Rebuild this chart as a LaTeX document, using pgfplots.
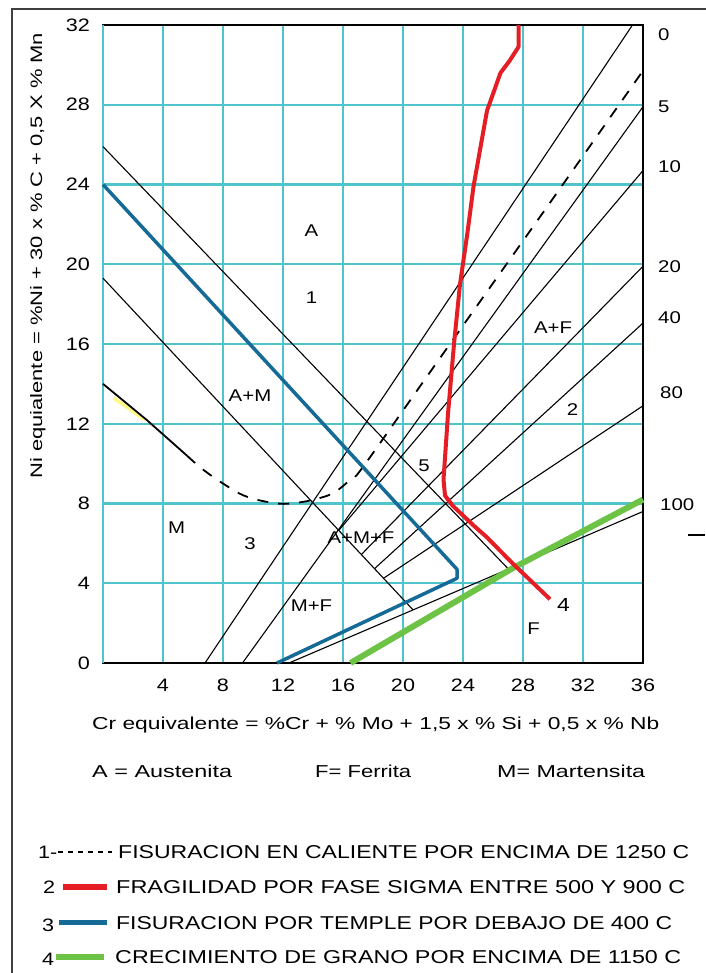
\documentclass[border=0pt]{standalone}
\usepackage{pgfplots}
\pgfplotsset{compat=1.18}
\usepackage{fontspec}
\setmainfont{Liberation Sans}[FakeStretch=1.2]
\definecolor{gridc}{RGB}{80,196,204}
\definecolor{rline}{RGB}{228,30,36}
\definecolor{bline}{RGB}{22,106,150}
\definecolor{gline}{RGB}{108,195,70}
\tikzset{lbl/.style={font=\fontsize{17}{17}\selectfont, inner sep=0pt}}
\begin{document}
\begin{tikzpicture}[x=1pt,y=1pt]
\path[use as bounding box] (0pt,0pt) rectangle (705pt,-973pt);
\draw[line width=1.6pt, black!75] (12pt,-980pt) -- (12pt,-9pt) -- (710pt,-9pt);
\begin{axis}[
  at={(103pt,-663pt)}, anchor=south west,
  scale only axis, width=540pt, height=638pt,
  xmin=0, xmax=36, ymin=0, ymax=32,
  xtick={4,8,...,36}, ytick={0,4,...,32},
  extra x ticks={0}, extra x tick labels={},
  grid=major, grid style={line width=2.2pt, color=gridc},
  axis line style={line width=1.2pt, black},
  tick style={draw=none},
  ticklabel style={font=\fontsize{18}{18}\selectfont},
  /pgf/number format/assume math mode=true,
  xticklabel style={inner sep=0pt, anchor=north, yshift=-16pt},
  yticklabel style={inner sep=0pt, anchor=east, xshift=-13pt},
  clip=false,
]
% yellow tint on hot-cracking line
\addplot[line width=3.5pt, color=yellow!60!white, opacity=0.8] coordinates {(0.7,13.3) (2.8,12.2)};
% thin phase boundary / iso-ferrite lines
\addplot[line width=1.1pt, black] coordinates {(0,25.9) (27.02,4.72)};
\addplot[line width=1.1pt, black] coordinates {(0,19.3) (20.65,2.68)};
\addplot[line width=1.1pt, black] coordinates {(6.8,0) (35.3,32)};
\addplot[line width=1.1pt, black] coordinates {(9.3,0) (36,27.9)};
\addplot[line width=1.1pt, black] coordinates {(15.72,6.65) (36,24.7)};
\addplot[line width=1.1pt, black] coordinates {(17.22,5.44) (36,19.9)};
\addplot[line width=1.1pt, black] coordinates {(18.1,4.73) (36,17.05)};
\addplot[line width=1.1pt, black] coordinates {(18.7,4.25) (36,12.9)};
\addplot[line width=1.1pt, black] coordinates {(12.4,0) (36,7.6)};
% 1: hot cracking (dashed)
\addplot[line width=1.8pt, black] coordinates {(0,14.0) (2.9,12.2) (5.6,10.4)};
\addplot[line width=1.8pt, black, smooth, dash pattern=on 11pt off 10pt] coordinates {
 (5.6,10.4) (6.5,9.8) (7.6,9.2) (9.1,8.5) (10.2,8.2) (11.6,8.0) (12.5,8.0) (13.8,8.15)
 (15.3,8.5) (16.5,9.2) (17.3,9.8) (22,14.8) (30,23.3) (35.9,29.6)};
% 3: quench cracking (blue)
\addplot[line width=3.5pt, bline, line join=round] coordinates {(0,24) (23.6,4.7) (23.6,4.25) (11.6,0)};
% 4: grain growth (green)
\addplot[line width=6pt, gline] coordinates {(16.5,0) (27.3,4.75) (36,8.2)};
% 2: sigma embrittlement (red)
\addplot[line width=4pt, rline, line join=round] coordinates {
 (27.7,32) (27.7,30.9) (27.1,30.2) (26.5,29.6) (25.6,27.7) (24.7,23.9) (24.3,21.6)
 (23.8,19.0) (23.4,16.0) (23.0,12.5) (22.7,9.2) (22.8,8.4) (23.3,7.9) (24.7,6.9)
 (25.6,6.3) (27.3,5.0) (29.8,3.2)};
% region labels
\node[lbl] at (axis cs:13.9,21.7) {A};
\node[lbl] at (axis cs:13.9,18.3) {1};
\node[lbl] at (axis cs:9.8,13.4) {A+M};
\node[lbl] at (axis cs:4.9,6.8) {M};
\node[lbl] at (axis cs:9.8,6.0) {3};
\node[lbl] at (axis cs:17.2,6.3) {A+M+F};
\node[lbl] at (axis cs:13.9,2.9) {M+F};
\node[lbl] at (axis cs:21.4,9.9) {5};
\node[lbl] at (axis cs:30.0,16.8) {A+F};
\node[lbl] at (axis cs:31.3,12.7) {2};
\node[lbl] at (axis cs:28.7,1.7) {F};
\node[lbl, font=\fontsize{19}{19}\selectfont] at (axis cs:30.7,2.9) {4};
\end{axis}
% ferrite percentages on the right
\begin{scope}[every node/.style={font=\fontsize{17}{17}\selectfont, inner sep=0pt, anchor=west}]
\node at (658pt,-35pt) {0};
\node at (658pt,-107pt) {5};
\node at (658pt,-167pt) {10};
\node at (658pt,-267pt) {20};
\node at (658pt,-318pt) {40};
\node at (660pt,-393pt) {80};
\node at (660pt,-505pt) {100};
\end{scope}
\draw[line width=1.3pt] (688pt,-535pt) -- (705pt,-535pt);
% axis titles
\node[anchor=base west, inner sep=0pt] at (92pt,-729pt) {\resizebox{567pt}{12.5pt}{Cr equivalente = \%Cr + \% Mo + 1,5 x \% Si + 0,5 x \% Nb}};
\node[anchor=base west, rotate=90, inner sep=0pt] at (42pt,-479pt) {\resizebox{446pt}{12pt}{Ni equialente = \%Ni + 30 x \% C + 0,5 X \% Mn}};
% phase key
\node[anchor=base west, inner sep=0pt] at (92pt,-777pt) {\resizebox{140pt}{12.5pt}{A = Austenita}};
\node[anchor=base west, inner sep=0pt] at (315pt,-777pt) {\resizebox{96pt}{12.5pt}{F= Ferrita}};
\node[anchor=base west, inner sep=0pt] at (497pt,-777pt) {\resizebox{148pt}{12.5pt}{M= Martensita}};
% legend
\begin{scope}[every node/.style={font=\fontsize{18}{18}\selectfont, inner sep=0pt}]
\node[anchor=base west] at (38pt,-858pt) {1-};
\draw[line width=1.8pt, dash pattern=on 5pt off 5pt] (58pt,-852pt) -- (112pt,-852pt);
\node[anchor=base west] at (118pt,-858pt) {\resizebox{571pt}{13pt}{FISURACION EN CALIENTE POR ENCIMA DE 1250 C}};
\node[anchor=base west] at (43pt,-893pt) {2};
\draw[line width=6pt, rline] (63pt,-887pt) -- (107pt,-887pt);
\node[anchor=base west] at (116pt,-893pt) {\resizebox{569pt}{13pt}{FRAGILIDAD POR FASE SIGMA ENTRE 500 Y 900 C}};
\node[anchor=base west] at (42pt,-931pt) {3};
\draw[line width=5pt, bline] (59pt,-922pt) -- (107pt,-922pt);
\node[anchor=base west] at (116pt,-929pt) {\resizebox{556pt}{13pt}{FISURACION POR TEMPLE POR DEBAJO DE 400 C}};
\node[anchor=base west] at (42pt,-965pt) {4};
\draw[line width=6pt, gline] (56pt,-957pt) -- (104pt,-957pt);
\node[anchor=base west] at (115pt,-963pt) {\resizebox{566pt}{13pt}{CRECIMIENTO DE GRANO POR ENCIMA DE 1150 C}};
\end{scope}
\end{tikzpicture}
\end{document}
